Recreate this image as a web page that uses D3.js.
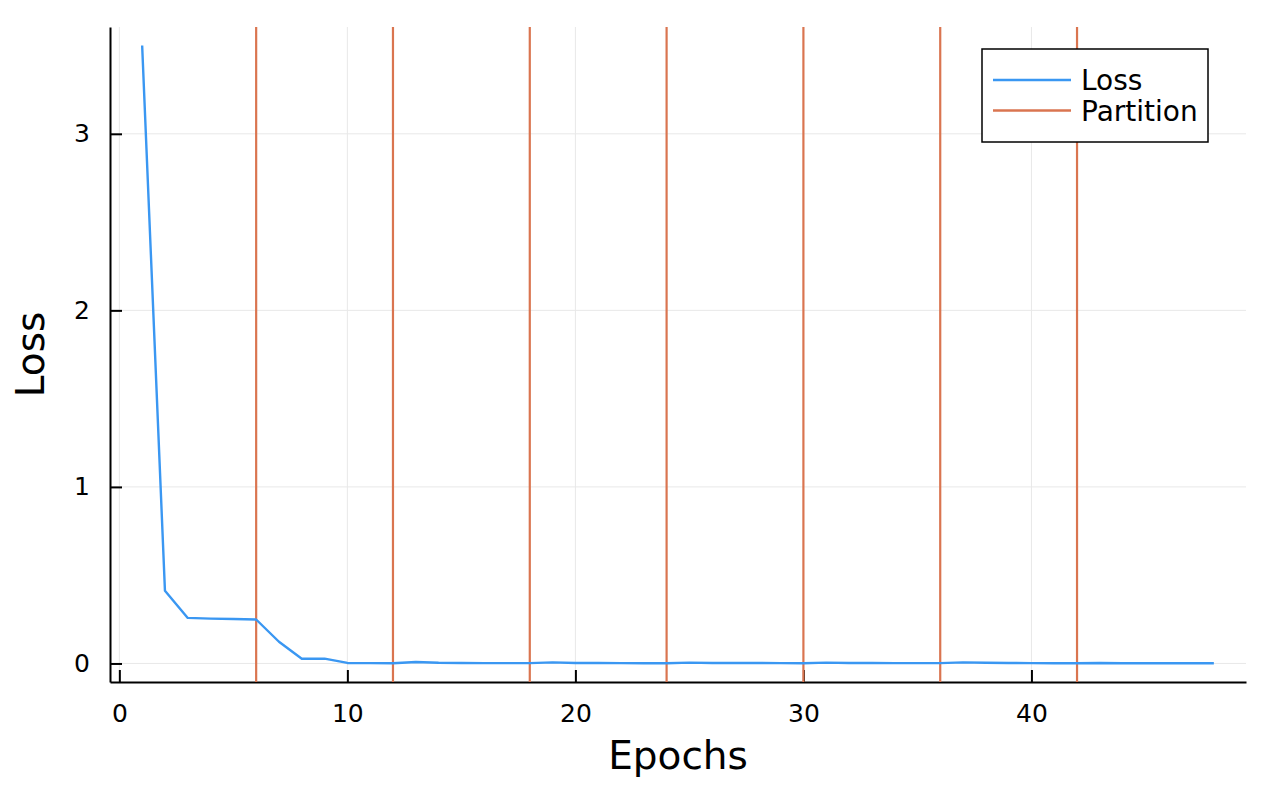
<!DOCTYPE html>
<html>
<head>
<meta charset="utf-8">
<script src="https://cdn.jsdelivr.net/npm/d3@7"></script>
<style>
  body { margin: 0; background: #fff; }
  text { font-family: "DejaVu Sans", sans-serif; }
</style>
</head>
<body>
<div id="chart"></div>
<script>
// loss per epoch
const epochs = d3.range(1, 49)
const lossValues = [
  3.50, 0.412, 0.258, 0.254, 0.252, 0.249, 0.123, 0.027, 0.027, 0.003,
  0.002, 0.001, 0.008, 0.004, 0.003, 0.002, 0.002, 0.002, 0.006, 0.003,
  0.003, 0.002, 0.001, 0.001, 0.005, 0.003, 0.003, 0.003, 0.002, 0.001,
  0.005, 0.003, 0.003, 0.002, 0.002, 0.002, 0.006, 0.004, 0.003, 0.002,
  0.001, 0.001, 0.003, 0.001, 0.001, 0.001, 0.001, 0.001
]
const partitions = [6, 12, 18, 24, 30, 36, 42]
const xTicks = [0, 10, 20, 30, 40]
const yTicks = [0, 1, 2, 3]

const blue = "#3a97f2"
const orange = "#da7550"

const width = 1276
const height = 792
const margin = { left: 110, right: 30, top: 27, bottom: 110 }

const svg = d3.select("#chart")
  .append("svg")
    .attr("width", width)
    .attr("height", height)

const x = d3.scaleLinear()
  .domain([-0.41, 49.41])
  .range([margin.left, width - margin.right])

const y = d3.scaleLinear()
  .domain([-0.105, 3.605])
  .range([height - margin.bottom, margin.top])

// grid
svg.append("g")
  .selectAll("line")
  .data(xTicks)
  .join("line")
    .attr("x1", d => x(d)).attr("x2", d => x(d))
    .attr("y1", y.range()[0]).attr("y2", y.range()[1])
    .attr("stroke", "#e8e8e8").attr("stroke-width", 1)

svg.append("g")
  .selectAll("line")
  .data(yTicks)
  .join("line")
    .attr("x1", x.range()[0]).attr("x2", x.range()[1])
    .attr("y1", d => y(d)).attr("y2", d => y(d))
    .attr("stroke", "#e8e8e8").attr("stroke-width", 1)

// axes (ticks pointing inward)
const xAxis = svg.append("g")
  .attr("transform", `translate(0,${y.range()[0]})`)
  .call(d3.axisBottom(x).tickValues(xTicks).tickFormat(d3.format("d"))
    .tickSize(-12).tickPadding(22).tickSizeOuter(0))
const yAxis = svg.append("g")
  .attr("transform", `translate(${x.range()[0]},0)`)
  .call(d3.axisLeft(y).tickValues(yTicks).tickFormat(d3.format("d"))
    .tickSize(-12).tickPadding(20).tickSizeOuter(0))

;[xAxis, yAxis].forEach(a => {
  a.attr("font-family", null).attr("font-size", null)
  a.select(".domain").attr("stroke", "#000").attr("stroke-width", 2)
  a.selectAll(".tick line").attr("stroke", "#000").attr("stroke-width", 2)
  a.selectAll(".tick text")
    .attr("fill", "#000")
    .style("font-size", "25px")
})

// partition lines
svg.append("g")
  .selectAll("line")
  .data(partitions)
  .join("line")
    .attr("x1", d => x(d)).attr("x2", d => x(d))
    .attr("y1", y.range()[0]).attr("y2", y.range()[1])
    .attr("stroke", orange).attr("stroke-width", 2.2)

// loss line
const line = d3.line()
  .x((d, i) => x(epochs[i]))
  .y(d => y(d))

svg.append("path")
  .datum(lossValues)
  .attr("fill", "none")
  .attr("stroke", blue)
  .attr("stroke-width", 2.4)
  .attr("stroke-linejoin", "round")
  .attr("d", line)

// axis titles
svg.append("text")
  .attr("x", (x.range()[0] + x.range()[1]) / 2)
  .attr("y", 769)
  .attr("text-anchor", "middle")
  .style("font-size", "39px")
  .text("Epochs")

svg.append("text")
  .attr("transform", `translate(44,${(y.range()[0] + y.range()[1]) / 2}) rotate(-90)`)
  .attr("text-anchor", "middle")
  .style("font-size", "39px")
  .text("Loss")

// legend
const legendItems = [
  { name: "Loss", color: blue },
  { name: "Partition", color: orange }
]
const legend = svg.append("g").attr("transform", "translate(982,49)")
legend.append("rect")
  .attr("width", 226).attr("height", 93)
  .attr("fill", "#fff").attr("stroke", "#000").attr("stroke-width", 1.5)

const item = legend.selectAll("g.item")
  .data(legendItems)
  .join("g")
    .attr("class", "item")
    .attr("transform", (d, i) => `translate(0,${31 + i * 30.5})`)
item.append("line")
  .attr("x1", 11).attr("x2", 89)
  .attr("stroke", d => d.color).attr("stroke-width", 2.4)
item.append("text")
  .attr("x", 99).attr("y", 10)
  .style("font-size", "28px")
  .text(d => d.name)
</script>
</body>
</html>
